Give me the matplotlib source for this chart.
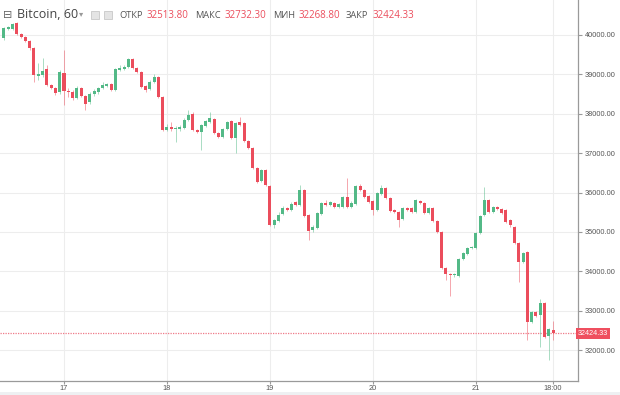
import matplotlib
matplotlib.use("Agg")
import matplotlib.pyplot as plt
import matplotlib.dates as mdates
from matplotlib.patches import Rectangle
import pandas as pd

# hourly BTC candles, 16 Jan 10:00 -> 21 Jan 18:00
start = "2021-01-16 10:00"
opens = [
    39924, 40152, 40152, 40304, 40025, 39949, 39847, 39670, 38959, 38984,
    39137, 38731, 38655, 38553, 39035, 38578, 38553, 38401, 38655, 38452,
    38299, 38502, 38553, 38655, 38705, 38756, 38604, 39111, 39137, 39188,
    39391, 39162, 39061, 38705, 38629, 38807, 38934, 38426, 37589, 37665,
    37614, 37614, 37639, 37842, 37995, 37589, 37538, 37690, 37792, 37868,
    37512, 37411, 37614, 37817, 37386, 37792, 37766, 37309, 37132, 36624,
    36294, 36573, 36167, 35178, 35279, 35457, 35609, 35558, 35761, 35685,
    36066, 35431, 35051, 35101, 35457, 35736, 35685, 35736, 35634, 35634,
    35888, 35634, 35710, 36167, 36066, 35914, 35787, 35558, 35964, 36117,
    35863, 35558, 35507, 35330, 35609, 35609, 35507, 35787, 35736, 35482,
    35609, 35279, 35000, 34086, 33934, 33908, 33883, 34315, 34441, 34594,
    34594, 34974, 35431, 35812, 35507, 35634, 35584, 35558, 35304, 35127,
    34721, 34238, 34492, 32716, 32969, 32893, 33198, 32360, 32513.80,
]
highs = [
    40203, 40228, 40304, 40330, 40050, 39974, 39873, 39700, 39289, 39416,
    39238, 38756, 38680, 39111, 39619, 38655, 38604, 38705, 38680, 38477,
    38553, 38629, 38680, 38807, 38781, 38781, 39162, 39238, 39238, 39416,
    39416, 39188, 39086, 38731, 38858, 39010, 38959, 38452, 37741, 37792,
    37690, 37715, 37893, 38096, 38045, 37614, 37741, 37842, 38045, 37893,
    37538, 37639, 37817, 37842, 37792, 37919, 37792, 37335, 37157, 36650,
    36600, 36600, 36193, 35330, 35507, 35660, 35634, 35761, 35787, 36193,
    36091, 35457, 35178, 35507, 35761, 35812, 35787, 35761, 35736, 35914,
    36370, 35787, 36193, 36218, 36091, 35939, 35812, 36015, 36193, 36142,
    35888, 35584, 35533, 35634, 35634, 35634, 35837, 35812, 35761, 35634,
    35634, 35304, 35025, 34111, 33960, 33960, 34340, 34492, 34620, 34645,
    35000, 35431, 36142, 35837, 35660, 35660, 35609, 35584, 35330, 35152,
    34747, 34492, 34517, 32995, 32995, 33300, 33224, 32563, 32732.30,
]
lows = [
    39873, 40127, 40127, 40000, 39924, 39822, 39619, 38807, 38858, 38934,
    38705, 38629, 38477, 38502, 38223, 38426, 38350, 38375, 38426, 38096,
    38248, 38452, 38502, 38629, 38680, 38578, 38578, 39086, 39111, 39162,
    39137, 39035, 38655, 38553, 38604, 38781, 38401, 37563, 37563, 37563,
    37284, 37563, 37614, 37817, 37563, 37512, 37081, 37665, 37766, 37487,
    37386, 37386, 37589, 37360, 37005, 37690, 37284, 37106, 36600, 36244,
    36269, 36167, 35152, 35101, 35254, 35431, 35533, 35533, 35660, 35660,
    35381, 34797, 35000, 35076, 35431, 35660, 35660, 35609, 35609, 35609,
    35609, 35609, 35685, 36040, 35863, 35736, 35431, 35533, 35939, 35837,
    35507, 35482, 35127, 35304, 35533, 35482, 35482, 35710, 35457, 35457,
    35254, 34974, 34060, 33782, 33376, 33858, 33858, 34290, 34416, 34569,
    34569, 34949, 35406, 35482, 35482, 35558, 35457, 35228, 35127, 34696,
    33730, 34213, 32259, 32690, 32843, 32081, 32310, 31751, 32268.80,
]
closes = [
    40177, 40203, 40279, 40025, 39949, 39847, 39670, 38984, 39010, 39086,
    38731, 38655, 38528, 39061, 38578, 38553, 38401, 38655, 38452, 38248,
    38502, 38578, 38655, 38731, 38756, 38604, 39137, 39162, 39188, 39391,
    39162, 39061, 38680, 38604, 38807, 38934, 38426, 37589, 37665, 37614,
    37639, 37665, 37842, 37969, 37589, 37538, 37715, 37817, 37893, 37512,
    37411, 37614, 37792, 37386, 37766, 37715, 37309, 37132, 36624, 36269,
    36573, 36193, 35178, 35304, 35431, 35609, 35558, 35710, 35685, 36066,
    35406, 35025, 35127, 35482, 35736, 35685, 35761, 35634, 35710, 35888,
    35634, 35736, 36167, 36066, 35888, 35761, 35558, 35990, 36117, 35863,
    35533, 35507, 35304, 35609, 35558, 35507, 35812, 35736, 35482, 35609,
    35279, 35000, 34086, 33934, 33908, 33934, 34315, 34467, 34594, 34620,
    34974, 35406, 35812, 35507, 35634, 35584, 35482, 35254, 35178, 34721,
    34238, 34467, 32716, 32969, 32868, 33198, 32335, 32538, 32424.33,
]

tick_times = ["2021-01-17 00:00", "2021-01-18 00:00", "2021-01-19 00:00",
              "2021-01-20 00:00", "2021-01-21 00:00", "2021-01-21 18:00"]
tick_labels = ["17", "18", "19", "20", "21", "18:00"]
price_ticks = [32000, 33000, 34000, 35000, 36000, 37000, 38000, 39000, 40000]

up_col = "#53b987"
down_col = "#eb4d5c"

times = pd.date_range(start, periods=len(opens), freq="h")
x = mdates.date2num(times)
df = pd.DataFrame({"x": x, "o": opens, "h": highs, "l": lows, "c": closes})
df["col"] = [up_col if c >= o else down_col for o, c in zip(df.o, df.c)]
df["bottom"] = df[["o", "c"]].min(axis=1)
df["height"] = (df.c - df.o).abs().clip(lower=25)

fig = plt.figure(figsize=(6.2, 3.95), dpi=100)
ax = fig.add_axes([0, 1 - 381 / 395, 578 / 620, 381 / 395])

ax.vlines(df.x, df.l, df.h, colors=df.col, lw=0.7, alpha=0.5, zorder=2)
ax.bar(df.x, df.height, bottom=df.bottom, width=0.7 / 24, color=df.col,
       linewidth=0, zorder=3)

last = closes[-1]
ax.axhline(last, color="#ef7a88", lw=0.9, ls=(0, (1, 1)), zorder=1)
ax.text(1.0, last, f"{last:.2f}", transform=ax.get_yaxis_transform(),
        ha="left", va="center", color="white", fontsize=5.2,
        family="Liberation Sans", clip_on=False,
        bbox=dict(boxstyle="square,pad=0.3", fc="#ef4f5f", ec="none"))

ax.set_xlim(mdates.date2num(pd.Timestamp("2021-01-16 09:05")),
            mdates.date2num(pd.Timestamp("2021-01-21 23:48")))
ax.set_ylim(31218, 40888)

ax.set_xticks([mdates.date2num(pd.Timestamp(t)) for t in tick_times])
ax.set_xticklabels(tick_labels)
ax.set_yticks(price_ticks)
ax.set_yticklabels([f"{p:.2f}" for p in price_ticks])
ax.yaxis.tick_right()
ax.grid(True, color="#ededed", lw=0.8, zorder=0)
ax.set_axisbelow(True)

for s in ["left", "top"]:
    ax.spines[s].set_visible(False)
for s in ["right", "bottom"]:
    ax.spines[s].set_color("#9a9a9a")
    ax.spines[s].set_linewidth(0.9)
ax.tick_params(axis="y", length=3, color="#9a9a9a", labelsize=5.3,
               labelcolor="#555555", pad=2)
ax.tick_params(axis="x", length=2, color="#9a9a9a", labelsize=5.3,
               labelcolor="#555555", pad=1)
for lab in ax.get_xticklabels() + ax.get_yticklabels():
    lab.set_family("Liberation Sans")

# header line
fam = ["Open Sans", "DejaVu Sans"]
fy = 1 - 15 / 395
fig.text(3 / 620, fy, "⊟", fontsize=8, color="#666666", va="center", family=fam)
fig.text(17 / 620, fy, "Bitcoin, 60", fontsize=9, color="#444444", va="center", family=fam)
fig.text(79 / 620, fy, "▾", fontsize=6, color="#999999", va="center", family=fam)
for px in [91, 104]:
    fig.patches.append(Rectangle((px / 620, 1 - 19 / 395), 8 / 620, 8 / 395,
                                 transform=fig.transFigure, fc="#e4e4e4",
                                 ec="#c8c8c8", lw=0.6))
head_names = ["ОТКР", "МАКС", "МИН", "ЗАКР"]
head_vals = [opens[-1], highs[-1], lows[-1], closes[-1]]
name_x = [119, 195, 273, 346]
val_x = [147, 225, 298.5, 373]
for n, v, nx_, vx in zip(head_names, head_vals, name_x, val_x):
    fig.text(nx_ / 620, fy, n, fontsize=6.7, color="#555555", va="center", family=fam)
    fig.text(vx / 620, fy, f"{v:.2f}", fontsize=7, color=down_col, va="center", family=fam)

fig.patches.append(Rectangle((0, 0), 1, 3 / 395, transform=fig.transFigure,
                             fc="#eef0f2", ec="none"))

fig.savefig("out.png", dpi=100)
